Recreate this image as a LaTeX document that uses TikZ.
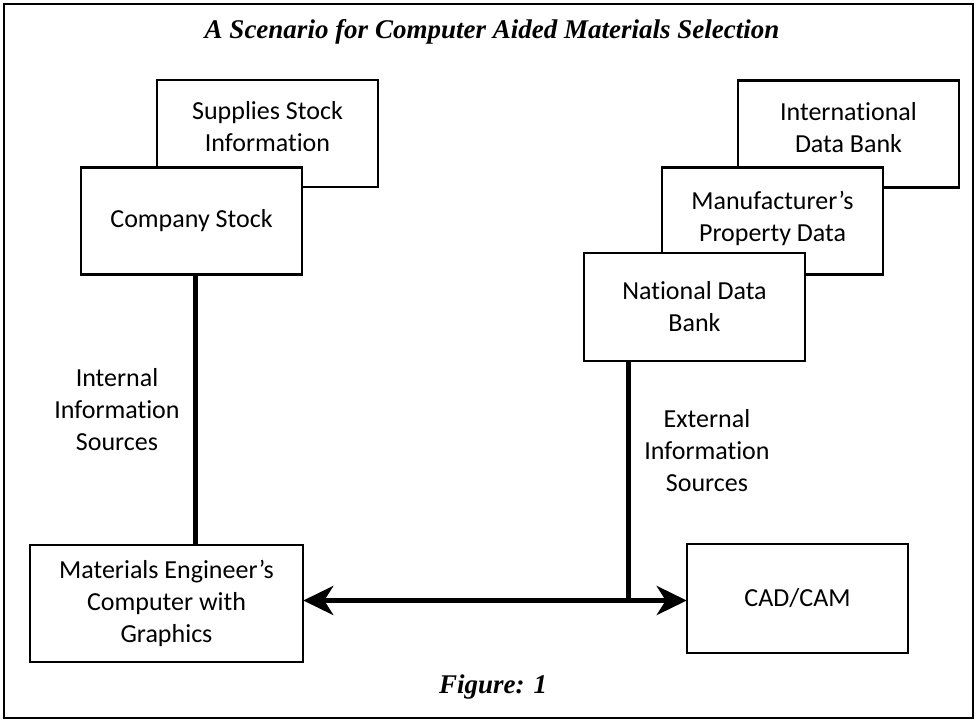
\documentclass[tikz,border=0pt]{standalone}
\usepackage{fontspec}
\setmainfont{Carlito}[Ligatures={NoCommon}]
\newfontfamily\titlefont{Liberation Serif}
\usetikzlibrary{arrows.meta}
\begin{document}
\begin{tikzpicture}[x=1pt,y=-1pt,
  box/.style={draw=black, line width=2.5pt, fill=white, align=center,
    minimum width=221pt, minimum height=107pt, inner sep=0pt,
    font=\fontsize{26}{32}\selectfont},
  conn/.style={draw=black, line width=5pt},
  lbl/.style={align=center, font=\fontsize{26}{32}\selectfont},
  ttl/.style={font=\titlefont\bfseries\itshape\fontsize{27}{30}\selectfont}]
\useasboundingbox (0,0) rectangle (977,722);
\draw[line width=2.5pt] (4,4) rectangle (973,718);
\node[ttl] (title) at (492,32) {A Scenario for Computer Aided Materials Selection};
% back boxes
\node[box, text depth=14pt] (sup) at (267.5,133.5) {Supplies Stock\\Information};
\node[box] (comp) at (191.5,221) {Company Stock};
\node[box, text depth=14pt] (intl) at (848.5,134) {International\\Data Bank};
\node[box, text depth=10pt] (manu) at (772.5,221) {Manufacturer’s\\Property Data};
\node[box, minimum height=108pt] (natl) at (694.5,307) {National Data\\Bank};
\node[box, minimum width=273pt, minimum height=117pt] (mat) at (166.5,603.5) {Materials Engineer’s\\Computer with\\Graphics};
\node[box, minimum height=109pt] (cad) at (797.5,598.5) {CAD/CAM};
% connectors
\coordinate (lv) at (195,0);
\coordinate (j) at (628,600.5);
\draw[conn] (comp.south -| lv) -- (mat.north -| lv);
\draw[conn] (natl.south -| j) -- (j);
\draw[conn, {Stealth[length=30pt,width=29pt,inset=9pt]}-{Stealth[length=30pt,width=29pt,inset=9pt]}, shorten <=-1pt, shorten >=-1pt]
  (mat.east |- j) -- (cad.west |- j);
% labels
\node[lbl] (intlab) at (117,410) {Internal\\Information\\Sources};
\node[lbl] (extlab) at (707,451) {External\\Information\\Sources};
\node[ttl] (fig) at (493,687) {Figure: 1};
\end{tikzpicture}
\end{document}
